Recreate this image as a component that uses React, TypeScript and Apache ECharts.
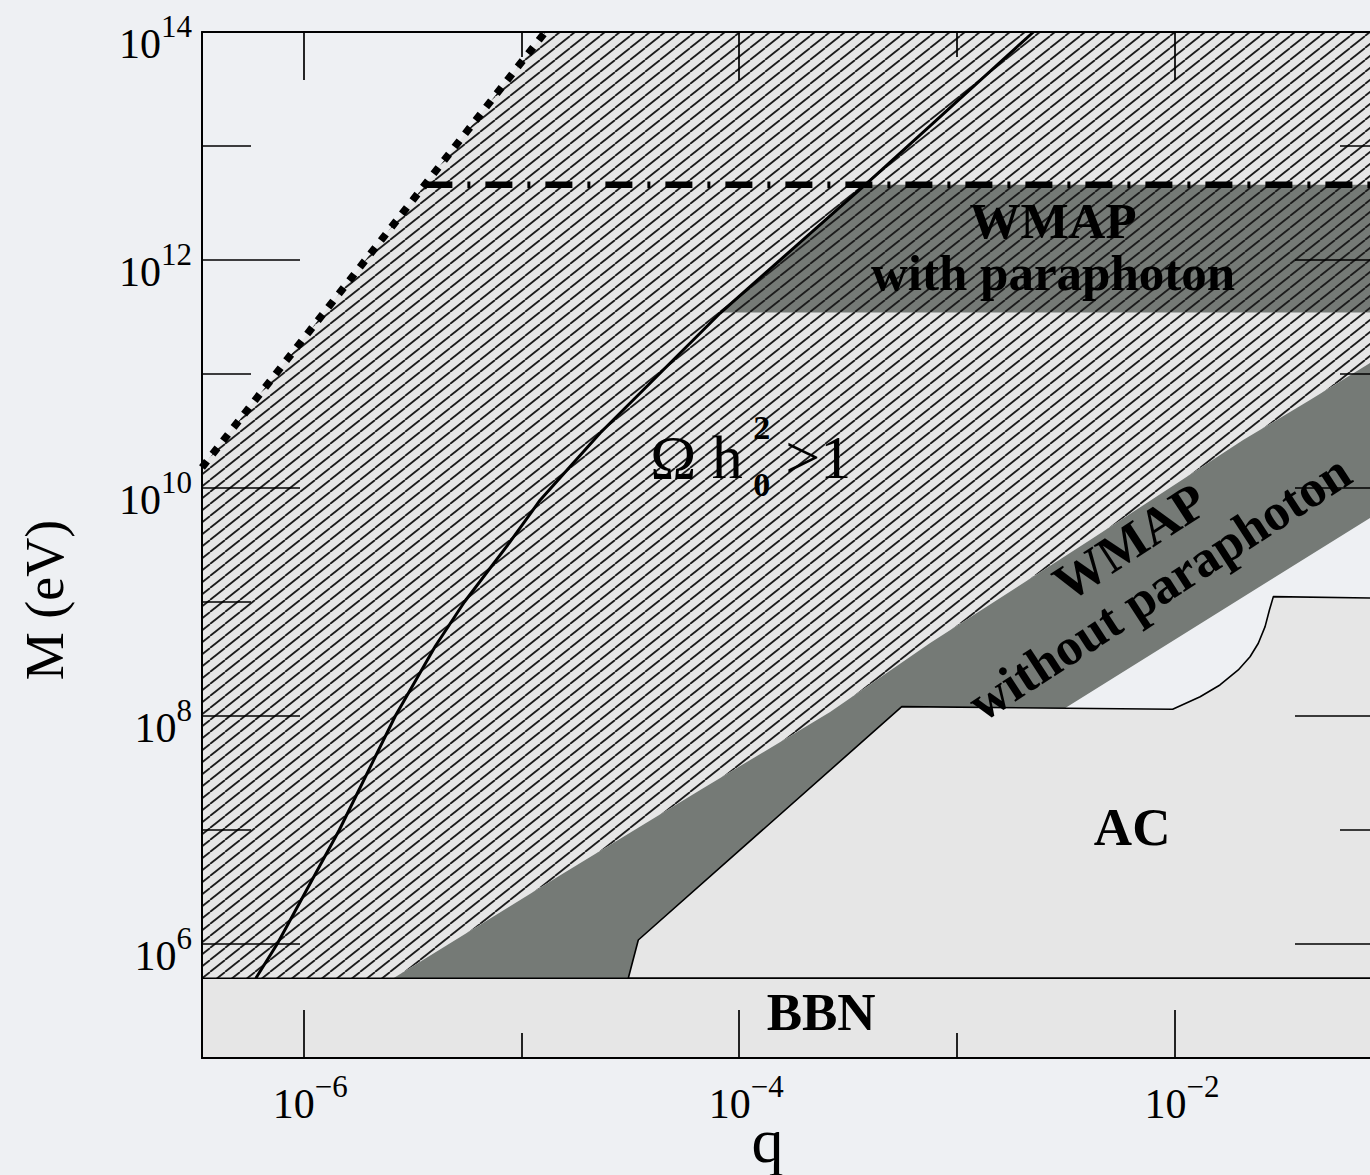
import React, { useEffect, useRef } from 'react';
import * as echarts from 'echarts';

const SERIF = "'Liberation Serif', 'Times New Roman', Times, serif";

// Axes are in decades: x = log10 q, y = log10(M / eV)
const xRange = [-6.465, -1];
const yRange = [5, 14];

const xMajorTicks = [-6, -4, -2];
const xMinorTicks = [-5, -3];
const yLabelValues = [6, 8, 10, 12, 14];
const yMajorTicks = [6, 8, 10, 12];
const yMinorTicks = [7, 9, 11, 13];
const yRightMinorTicks = [7, 11, 13];

// Big-bang nucleosynthesis bound
const bbnTop = 5.7;

// Solid relic-abundance contour
const contourX = [-6.218, -6.12, -5.835, -5.578, -5.394, -5.261, -5.055, -4.913, -4.638, -4.087, -3.413, -2.65];
const contourY = [5.7, 6.0, 7.0, 8.0, 8.614, 9.0, 9.518, 9.895, 10.482, 11.535, 12.675, 14.0];

// Dotted boundary of the hatched region
const dottedX = [-6.465, -4.89];
const dottedY = [10.18, 14.0];

// Dash-dot line
const dashDotX = [-5.44, -1.0];
const dashDotY = [12.66, 12.66];

// "WMAP with paraphoton" strip
const wmapWithLow = 11.54;
const wmapWithHigh = 12.66;

// "WMAP without paraphoton" band
const bandUpperX = [-5.587, -4.812, -4.179, -3.583, -3.124, -2.39, -1.688, -1.381, -1.0];
const bandUpperY = [5.7, 6.614, 7.351, 8.035, 8.64, 9.544, 10.421, 10.772, 11.22];
const bandLowerX = [-4.49, -1.0];
const bandLowerY = [5.7, 9.863];

// AC excluded region
const acX = [-4.509, -4.463, -3.254, -2.011, -1.885, -1.794, -1.71, -1.656, -1.618, -1.587, -1.567, -1.549, -1.0, -1.0];
const acY = [5.7, 6.035, 8.082, 8.059, 8.169, 8.272, 8.404, 8.52, 8.638, 8.784, 8.93, 9.047, 9.033, 5.7];

// Region annotations (anchor in axis units)
const annotations = [
  { text: 'WMAP\nwith paraphoton', x: -2.56, y: 12.114, size: 51, lh: 52, bold: true, align: 'center', rot: 0 },
  { text: 'AC', x: -2.197, y: 7.026, size: 53, lh: 53, bold: true, align: 'center', rot: 0 },
  { text: 'BBN', x: -3.624, y: 5.404, size: 53, lh: 53, bold: true, align: 'center', rot: 0 },
  { text: 'Ω h', x: -4.408, y: 10.272, size: 62, lh: 62, bold: false, align: 'left', rot: 0 },
  { text: '2', x: -3.935, y: 10.53, size: 34, lh: 34, bold: true, align: 'left', rot: 0 },
  { text: '0', x: -3.935, y: 10.035, size: 34, lh: 34, bold: true, align: 'left', rot: 0 },
  { text: '>1', x: -3.789, y: 10.272, size: 62, lh: 62, bold: false, align: 'left', rot: 0 },
  { text: 'WMAP\nwithout paraphoton', x: -2.14, y: 9.329, size: 52, lh: 54, bold: true, align: 'center', rot: 33 },
];

function interpXAtY(xs: number[], ys: number[], y: number): number {
  for (let i = 0; i < ys.length - 1; i++) {
    if ((ys[i] - y) * (ys[i + 1] - y) <= 0) {
      const t = (y - ys[i]) / (ys[i + 1] - ys[i]);
      return xs[i] + t * (xs[i + 1] - xs[i]);
    }
  }
  return xs[xs.length - 1];
}

function hatchPattern() {
  const w = 15;
  const h = 12;
  const c = document.createElement('canvas');
  c.width = w;
  c.height = h;
  const ctx = c.getContext('2d') as CanvasRenderingContext2D;
  ctx.strokeStyle = '#1c1c1c';
  ctx.lineWidth = 1.8;
  for (const dx of [-w, 0, w]) {
    ctx.beginPath();
    ctx.moveTo(dx, h);
    ctx.lineTo(dx + w, 0);
    ctx.stroke();
  }
  return { image: c.toDataURL(), repeat: 'repeat', imageWidth: w, imageHeight: h };
}

function polygonSeries(name: string, pts: number[][], style: any) {
  return {
    type: 'custom',
    name,
    coordinateSystem: 'cartesian2d',
    xAxisIndex: 0,
    yAxisIndex: 0,
    silent: true,
    data: [pts[0]],
    renderItem: (_p: any, api: any) => ({
      type: 'polygon',
      shape: { points: pts.map((p) => api.coord(p)) },
      style,
    }),
  };
}

function lineSeries(name: string, xs: number[], ys: number[], lineStyle: any) {
  return {
    type: 'line',
    name,
    xAxisIndex: 0,
    yAxisIndex: 0,
    data: xs.map((x, i) => [x, ys[i]]),
    symbol: 'none',
    showSymbol: false,
    silent: true,
    animation: false,
    lineStyle,
  };
}

const powRich = {
  b: { fontFamily: SERIF, fontSize: 42, color: '#000', lineHeight: 66 },
  s: { fontFamily: SERIF, fontSize: 31, color: '#000', lineHeight: 32, verticalAlign: 'top' },
};

function powLabel(v: number) {
  const e = Math.round(v);
  const exp = e < 0 ? '\u2212' + Math.abs(e) : String(e);
  return `{b|10}{s|${exp}}`;
}

export default function App() {
  const ref = useRef<HTMLDivElement>(null);

  useEffect(() => {
    const el = ref.current as HTMLDivElement;
    const chart = echarts.init(el, undefined, { renderer: 'svg' });

    const [xMin, xMax] = xRange;
    const [yMin, yMax] = yRange;

    // Hatched (Omega h^2 > 1) region: above the band, below the dotted line
    const hatchPts: number[][] = [
      [xMin, bbnTop],
      [xMin, dottedY[0]],
      [dottedX[1], yMax],
      [xMax, yMax],
    ];
    for (let i = bandUpperX.length - 1; i >= 0; i--) hatchPts.push([bandUpperX[i], bandUpperY[i]]);

    // WMAP-with-paraphoton strip, bounded on the left by the contour
    const wmapPts: number[][] = [[interpXAtY(contourX, contourY, wmapWithLow), wmapWithLow]];
    contourX.forEach((x, i) => {
      if (contourY[i] > wmapWithLow && contourY[i] < wmapWithHigh) wmapPts.push([x, contourY[i]]);
    });
    wmapPts.push([interpXAtY(contourX, contourY, wmapWithHigh), wmapWithHigh]);
    wmapPts.push([xMax, wmapWithHigh], [xMax, wmapWithLow]);

    const bandPts: number[][] = bandUpperX.map((x, i) => [x, bandUpperY[i]]);
    for (let i = bandLowerX.length - 1; i >= 0; i--) bandPts.push([bandLowerX[i], bandLowerY[i]]);

    const acPts: number[][] = acX.map((x, i) => [x, acY[i]]);
    const bbnPts: number[][] = [[xMin, yMin], [xMin, bbnTop], [xMax, bbnTop], [xMax, yMin]];

    const DARK = '#757a76';
    const LIGHT = '#e6e6e6';
    const tickStyle = { color: '#000', width: 1.7 };
    const axisLineStyle = { show: true, lineStyle: { color: '#000', width: 2 } };

    const xBase = {
      type: 'value',
      min: xMin,
      max: xMax,
      z: 10,
      splitLine: { show: false },
      axisPointer: { show: false },
    };
    const yBase = {
      type: 'value',
      min: yMin,
      max: yMax,
      z: 10,
      splitLine: { show: false },
      axisPointer: { show: false },
    };

    chart.setOption({
      animation: false,
      backgroundColor: '#eef0f3',
      grid: { left: 202, right: -23, top: 32, bottom: 117, outerBoundsMode: 'none', containLabel: false },
      xAxis: [
        {
          ...xBase,
          position: 'bottom',
          axisLine: axisLineStyle,
          axisTick: { inside: true, length: 48, lineStyle: tickStyle, customValues: xMajorTicks },
          axisLabel: {
            customValues: xMajorTicks,
            formatter: powLabel,
            rich: powRich,
            margin: 13,
            padding: [0, 0, 0, 14],
          },
          name: 'q',
          nameLocation: 'middle',
          nameGap: 50,
          nameMoveOverlap: false,
          nameTextStyle: { fontFamily: SERIF, fontSize: 64, color: '#000', padding: [0, 60, 0, 0] },
        },
        {
          ...xBase,
          position: 'bottom',
          axisLine: { show: false },
          axisTick: { inside: true, length: 25, lineStyle: tickStyle, customValues: xMinorTicks },
          axisLabel: { show: false },
        },
        {
          ...xBase,
          position: 'top',
          axisLine: axisLineStyle,
          axisTick: { inside: true, length: 48, lineStyle: tickStyle, customValues: xMajorTicks },
          axisLabel: { show: false },
        },
        {
          ...xBase,
          position: 'top',
          axisLine: { show: false },
          axisTick: { inside: true, length: 25, lineStyle: tickStyle, customValues: xMinorTicks },
          axisLabel: { show: false },
        },
      ],
      yAxis: [
        {
          ...yBase,
          position: 'left',
          axisLine: axisLineStyle,
          axisTick: { inside: true, length: 98, lineStyle: tickStyle, customValues: yMajorTicks },
          axisLabel: {
            customValues: yLabelValues,
            formatter: powLabel,
            rich: powRich,
            margin: 10,
            padding: [24, 0, 0, 0],
          },
          name: 'M (eV)',
          nameLocation: 'middle',
          nameRotate: 90,
          nameGap: 130,
          nameMoveOverlap: false,
          nameTextStyle: { fontFamily: SERIF, fontSize: 54, color: '#000', padding: [0, 110, 0, 0] },
        },
        {
          ...yBase,
          position: 'left',
          axisLine: { show: false },
          axisTick: { inside: true, length: 49, lineStyle: tickStyle, customValues: yMinorTicks },
          axisLabel: { show: false },
        },
        {
          ...yBase,
          position: 'right',
          axisLine: axisLineStyle,
          axisTick: { inside: true, length: 98, lineStyle: tickStyle, customValues: yMajorTicks },
          axisLabel: { show: false },
        },
        {
          ...yBase,
          position: 'right',
          axisLine: { show: false },
          axisTick: { inside: true, length: 53, lineStyle: tickStyle, customValues: yRightMinorTicks },
          axisLabel: { show: false },
        },
      ],
      series: [
        polygonSeries('Ωh² > 1', hatchPts, { fill: LIGHT }),
        polygonSeries('WMAP with paraphoton', wmapPts, { fill: DARK }),
        polygonSeries('hatching', hatchPts, { fill: hatchPattern() }),
        polygonSeries('WMAP without paraphoton', bandPts, { fill: DARK }),
        polygonSeries('AC', acPts, { fill: LIGHT, stroke: '#000', lineWidth: 1.6, lineJoin: 'round' }),
        polygonSeries('BBN', bbnPts, { fill: LIGHT, stroke: '#000', lineWidth: 1.6 }),
        lineSeries('contour', contourX, contourY, { color: '#000', width: 3 }),
        lineSeries('dash-dot', dashDotX, dashDotY, { color: '#000', width: 6.5, type: [27, 15, 3, 15], cap: 'butt' }),
        lineSeries('dotted', dottedX, dottedY, { color: '#000', width: 7.5, type: [8, 9], cap: 'butt' }),
        {
          type: 'custom',
          name: 'labels',
          coordinateSystem: 'cartesian2d',
          xAxisIndex: 0,
          yAxisIndex: 0,
          silent: true,
          z: 8,
          data: [[annotations[0].x, annotations[0].y]],
          renderItem: (_p: any, api: any) => ({
            type: 'group',
            children: annotations.map((a) => {
              const [px, py] = api.coord([a.x, a.y]);
              return {
                type: 'text',
                x: px,
                y: py,
                rotation: (a.rot * Math.PI) / 180,
                style: {
                  text: a.text,
                  fill: '#000',
                  fontFamily: SERIF,
                  fontSize: a.size,
                  lineHeight: a.lh,
                  fontWeight: a.bold ? 'bold' : 'normal',
                  align: a.align,
                  verticalAlign: 'middle',
                },
              };
            }),
          }),
        },
      ],
    });

    return () => chart.dispose();
  }, []);

  return <div ref={ref} style={{ position: 'absolute', left: 0, top: 0, width: 1370, height: 1175 }} />;
}
